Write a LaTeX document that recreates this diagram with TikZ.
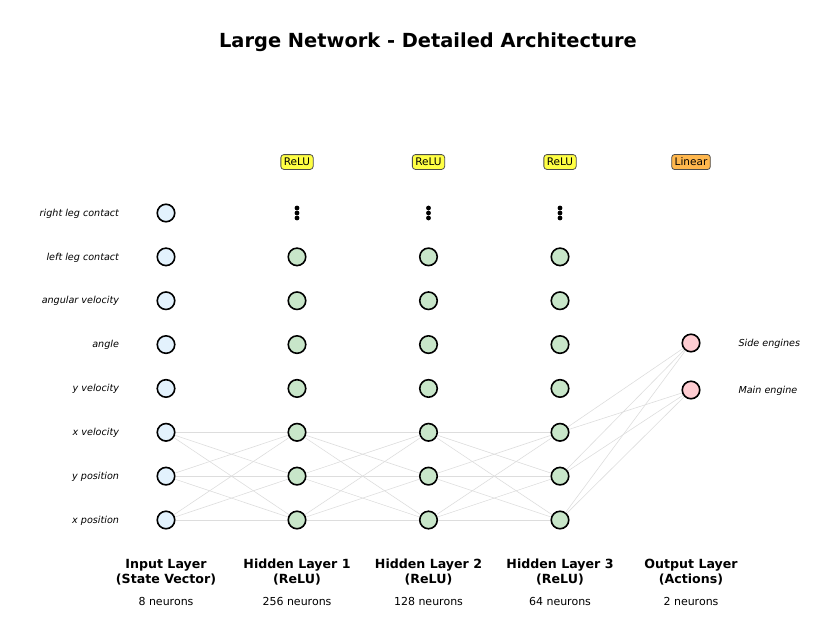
\documentclass[tikz,border=0pt]{standalone}
\usepackage{fontspec}
\setmainfont{DejaVu Sans}
\usepackage{tikz}

\definecolor{inputfill}{HTML}{E3F2FD}
\definecolor{hiddenfill}{HTML}{C8E6C9}
\definecolor{outputfill}{HTML}{FFCDD2}
\definecolor{relufill}{HTML}{FFFF44}
\definecolor{linearfill}{HTML}{FFB74D}
\definecolor{edgegray}{HTML}{DDDDDD}

\tikzset{
	neuron/.style={circle, draw=black, line width=1.6pt, minimum size=17.5pt, inner sep=0pt},
	actbox/.style={draw=black!70, line width=0.8pt, rounded corners=3pt, inner xsep=3pt, inner ysep=3.5pt, font=\fontsize{10.5}{12}\selectfont},
	feature/.style={font=\fontsize{9.6}{11}\selectfont\itshape},
	layertitle/.style={font=\fontsize{12.6}{15}\selectfont\bfseries, align=center},
	neuroncount/.style={font=\fontsize{11}{13}\selectfont},
	weight/.style={draw=edgegray, line width=0.6pt}
}

\begin{document}
\begin{tikzpicture}[x=1pt, y=-1pt]

\useasboundingbox (0,0) rectangle (834,638);

% Row spacing
\def\gap{43.857}

% Title
\node[font=\fontsize{19.4}{23}\selectfont\bfseries] (title) at (428,42.5) {Large Network - Detailed Architecture};

% Input layer with feature names
\foreach \r/\txt in {0/right leg contact,1/left leg contact,2/angular velocity,3/angle,4/y velocity,5/x velocity,6/y position,7/x position} {
	\node[neuron, fill=inputfill] (in\r) at (166, 213+\r*\gap) {};
	\node[feature, anchor=east] (feat\r) at (122.5, 213.5+\r*\gap) {\txt};
}

% Hidden layers (top row replaced by dots)
\foreach \l/\x in {1/297,2/428.5,3/560} {
	\node[actbox, fill=relufill] (act\l) at (\x,162) {ReLU};
	\foreach \r in {1,...,7} {
		\node[neuron, fill=hiddenfill] (h\l n\r) at (\x, 213+\r*\gap) {};
	}
	\foreach \d in {-5,0,5} {
		\fill (\x, 213+\d) circle (2.4pt);
	}
}

% Output layer
\node[actbox, fill=linearfill] (act4) at (691,162) {Linear};
\node[neuron, fill=outputfill] (out0) at (691,343) {};
\node[neuron, fill=outputfill] (out1) at (691,390) {};
\node[feature, anchor=west] (act0name) at (735,344) {Side engines};
\node[feature, anchor=west] (act1name) at (735,391) {Main engine};

% Weights between the bottom three neurons
\foreach \a in {5,6,7} {
	\foreach \b in {5,6,7} {
		\draw[weight] (in\a) -- (h1n\b);
		\draw[weight] (h1n\a) -- (h2n\b);
		\draw[weight] (h2n\a) -- (h3n\b);
	}
	\draw[weight] (h3n\a) -- (out0);
	\draw[weight] (h3n\a) -- (out1);
}

% Layer captions
\foreach \x/\name/\cap/\cnt in {166/inp/Input Layer\\(State Vector)/8, 297/hid1/Hidden Layer 1\\(ReLU)/256, 428.5/hid2/Hidden Layer 2\\(ReLU)/128, 560/hid3/Hidden Layer 3\\(ReLU)/64, 691/outp/Output Layer\\(Actions)/2} {
	\node[layertitle] (\name) at (\x,572) {\cap};
	\node[neuroncount] (\name cnt) at (\x,601) {\cnt{} neurons};
}

\end{tikzpicture}
\end{document}
